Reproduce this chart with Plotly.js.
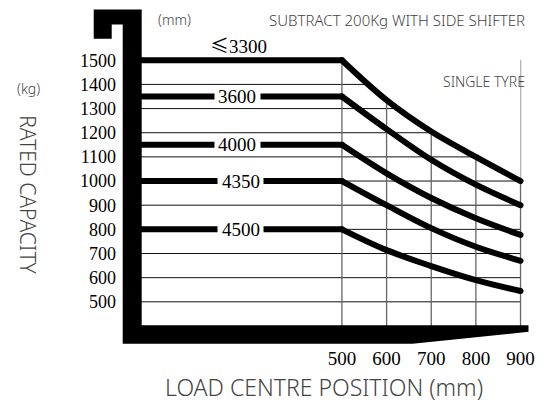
<!DOCTYPE html>
<html>
<head>
<meta charset="utf-8">
<script src="https://cdn.plot.ly/plotly-3.0.1.min.js"></script>
<style>
  html, body { margin: 0; padding: 0; background: #fff; }
  #chart { width: 553px; height: 404px; }
  .js-line { stroke-linecap: round; stroke-linejoin: round; }
</style>
</head>
<body>
<div id="chart"></div>
<script>
// ---- data ----
const loadCentres = [500, 600, 700, 800, 900];          // mm
const mastHeights = ['≤3300', '3600', '4000', '4350', '4500'];
const cap3300 = [1500, 1335, 1205, 1100, 1000];
const cap3600 = [1350, 1215, 1088, 985, 900];
const cap4000 = [1150, 1032, 930, 846, 777];
const cap4350 = [1000, 900, 805, 728, 670];
const cap4500 = [800, 714, 648, 590, 545];
const yTickVals = [500, 600, 700, 800, 900, 1000, 1100, 1200, 1300, 1400, 1500];
const xTickVals = [500, 600, 700, 800, 900];

const capacities = [cap3300, cap3600, cap4000, cap4350, cap4500];

// ---- layout geometry ----
const W = 553, H = 404;
const L = 141.3, R = 525.5, T = 53.4, B = 325.7;
const X_MIN = 50, X_MAX = 910, Y_MIN = 400, Y_MAX = 1530;
const px = p => (p - L) / (R - L);
const py = p => (B - p) / (B - T);

const traces = [];
// white mask above the top curve (hides grid there)
traces.push({x: loadCentres, y: loadCentres.map(() => Y_MAX), mode: 'lines',
  line: {width: 0}, hoverinfo: 'skip', showlegend: false});
traces.push({x: loadCentres, y: cap3300, mode: 'lines', fill: 'tonexty',
  fillcolor: '#ffffff', line: {width: 0, shape: 'spline', smoothing: 1}, hoverinfo: 'skip', showlegend: false});

capacities.forEach((vals, i) => {
  traces.push({x: [X_MIN, loadCentres[0]], y: [vals[0], vals[0]], mode: 'lines',
    line: {color: '#000', width: 6}, showlegend: false, name: mastHeights[i]});
  traces.push({x: loadCentres, y: vals, mode: 'lines',
    line: {color: '#000', width: 6, shape: 'spline', smoothing: 1}, showlegend: false, name: mastHeights[i]});
});

const shapes = [];
yTickVals.forEach(v => shapes.push({type: 'line', layer: 'below', xref: 'x', yref: 'y',
  x0: X_MIN, x1: xTickVals[xTickVals.length - 1], y0: v, y1: v, line: {color: '#111', width: 1}}));
xTickVals.forEach(v => shapes.push({type: 'line', layer: 'below', xref: 'x', yref: 'y',
  x0: v, x1: v, y0: Y_MIN, y1: yTickVals[yTickVals.length - 1], line: {color: '#666', width: 1.3}}));

// forklift frame (fork + carriage outline)
const framePts = [[94,10],[142,10],[142,325],[529,325],[529,331.5],[413,343.3],[123,343.3],[123,25],[112,25],[112,39.3],[94,39.3]];
const framePath = 'M' + framePts.map(p => px(p[0]).toFixed(5) + ',' + py(p[1]).toFixed(5)).join(' L') + ' Z';
shapes.push({type: 'path', layer: 'above', xref: 'paper', yref: 'paper', path: framePath,
  fillcolor: '#000', line: {width: 0}});

const serif = 'Liberation Serif, Times New Roman, serif';
const sans = 'Noto Sans, Open Sans, sans-serif';
const annotations = [];
const labelX = [268, 266, 266, 273, 273];
capacities.forEach((vals, i) => {
  if (i === 0) {
    annotations.push({x: labelX[i], y: vals[0], xref: 'x', yref: 'y', yshift: 16, showarrow: false,
      text: '<span style="font-family:\'Noto Sans CJK SC\'">≤</span>3300',
      font: {family: serif, size: 19, color: '#000'}});
  } else {
    // white gap in the line behind the label
    annotations.push({x: labelX[i], y: vals[0], xref: 'x', yref: 'y', showarrow: false,
      text: ' ', bgcolor: '#ffffff', width: 45, height: 10, borderpad: 0});
    annotations.push({x: labelX[i], y: vals[0], xref: 'x', yref: 'y', showarrow: false,
      text: mastHeights[i], font: {family: serif, size: 19, color: '#000'}});
  }
});
const txt = (text, x, y, size, extra) => Object.assign({text, x: px(x), y: py(y), xref: 'paper', yref: 'paper',
  showarrow: false, xanchor: 'center', yanchor: 'middle',
  font: {family: sans, size, color: '#444', weight: 300}}, extra || {});
annotations.push(txt('(mm)', 175, 20, 14));
annotations.push(txt('SUBTRACT 200Kg WITH SIDE SHIFTER', 397.5, 20, 15));
annotations.push(txt('SINGLE TYRE', 484, 82, 14));
annotations.push(txt('(kg)', 29, 89, 14));
annotations.push(txt('RATED CAPACITY', 28, 195, 21, {textangle: 90}));
annotations.push(txt('LOAD CENTRE POSITION (mm)', 324, 387, 23));

const layout = {
  width: W, height: H,
  margin: {l: L, r: W - R, t: T, b: H - B, pad: 0},
  paper_bgcolor: '#fff', plot_bgcolor: '#fff',
  showlegend: false,
  xaxis: {range: [X_MIN, X_MAX], tickvals: xTickVals, ticktext: xTickVals.map(String),
    showgrid: false, zeroline: false, showline: false, ticks: '', ticklabelstandoff: 19,
    tickfont: {family: serif, size: 19, color: '#000'}, fixedrange: true},
  yaxis: {range: [Y_MIN, Y_MAX], tickvals: yTickVals, ticktext: yTickVals.map(String),
    showgrid: false, zeroline: false, showline: false, ticks: '', ticklabelstandoff: 24,
    tickfont: {family: serif, size: 18, color: '#000'}, fixedrange: true},
  shapes, annotations
};

Plotly.newPlot('chart', traces, layout, {staticPlot: true, displayModeBar: false});
</script>
</body>
</html>
